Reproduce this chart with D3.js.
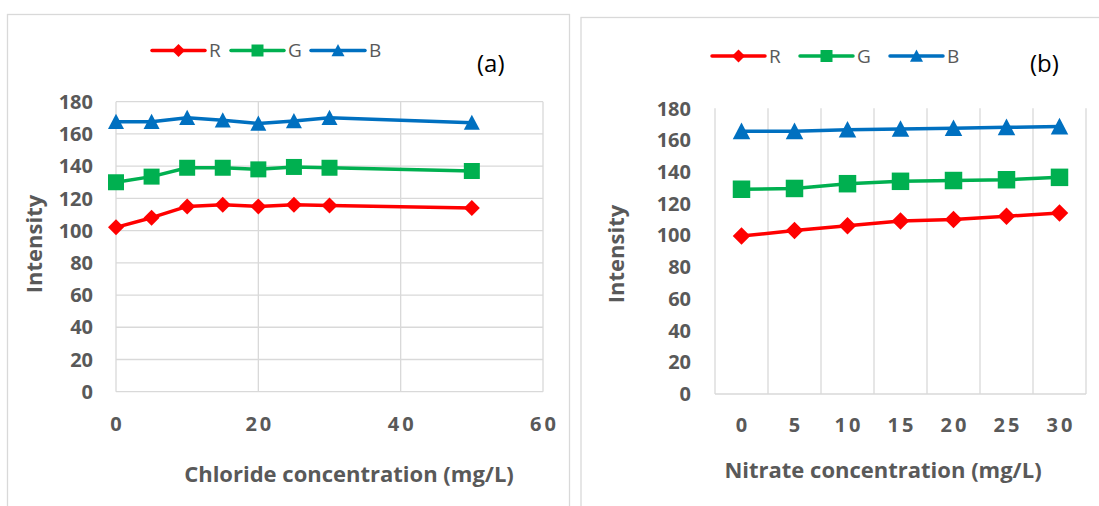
<!DOCTYPE html>
<html>
<head>
<meta charset="utf-8">
<script src="https://cdn.jsdelivr.net/npm/d3@7"></script>
<style>
  html, body { margin: 0; padding: 0; background: #ffffff; }
  svg { display: block; }
  text { font-family: "Open Sans", "Liberation Sans", sans-serif; }
</style>
</head>
<body>
<svg id="chart" width="1099" height="506"></svg>
<script>
// ---------- data ----------
const seriesNames = ["R", "G", "B"];
const seriesColors = ["#FF0000", "#00B050", "#0070C0"];
const seriesMarkers = ["diamond", "square", "triangle"];

const yTicks = [0, 20, 40, 60, 80, 100, 120, 140, 160, 180];

// Panel (a): chloride
const chlorideConc = [0, 5, 10, 15, 20, 25, 30, 50];
const chlorideTicks = [0, 20, 40, 60];
const chlorideR = [102, 108, 115, 116, 115, 116, 115.5, 114];
const chlorideG = [130, 133.5, 139, 139, 138, 139.5, 139, 137];
const chlorideB = [167.5, 167.5, 170, 168.5, 166.5, 168, 170, 167];

// Panel (b): nitrate
const nitrateConc = ["0", "5", "10", "15", "20", "25", "30"];
const nitrateR = [99.5, 103, 106, 109, 110, 112, 114];
const nitrateG = [129, 129.5, 132.5, 134, 134.5, 135, 136.5];
const nitrateB = [165.5, 165.5, 166.5, 167, 167.5, 168, 168.5];

// ---------- drawing ----------
const svg = d3.select("#chart");
const GRID = "#d9d9d9";
const TXT = "#595959";
const TICK_FS = 20;
const TITLE_FS = 22;
const LEG_FS = 19;

function markerPath(type, s) {
  const h = s / 2;
  if (type === "diamond") return `M0,${-h}L${h},0L0,${h}L${-h},0Z`;
  if (type === "square") return `M${-h},${-h}H${h}V${h}H${-h}Z`;
  return `M0,${-h}L${h},${h * 0.9}L${-h},${h * 0.9}Z`;
}

function legend(g, items) {
  items.forEach(it => {
    g.append("line").attr("x1", it.x1).attr("x2", it.x2).attr("y1", it.y).attr("y2", it.y)
      .attr("stroke", it.color).attr("stroke-width", 3.5).attr("stroke-linecap", "round");
    g.append("path").attr("d", markerPath(it.marker, it.ms))
      .attr("transform", `translate(${(it.x1 + it.x2) / 2},${it.y})`).attr("fill", it.color);
    g.append("text").attr("x", it.x2 + 4).attr("y", it.y).attr("dy", "0.36em")
      .attr("fill", TXT).attr("font-size", LEG_FS).text(it.name);
  });
}

// Panel borders
svg.append("rect").attr("x", 7.5).attr("y", 14.5).attr("width", 562).attr("height", 540)
  .attr("fill", "none").attr("stroke", GRID).attr("stroke-width", 1.3);
svg.append("rect").attr("x", 581).attr("y", 17.5).attr("width", 540).attr("height", 540)
  .attr("fill", "none").attr("stroke", GRID).attr("stroke-width", 1.3);

// ===== Panel (a) =====
(function () {
  const g = svg.append("g");
  const x = d3.scaleLinear().domain([0, 60]).range([116, 543]);
  const y = d3.scaleLinear().domain([0, 180]).range([391.7, 101.7]);

  g.selectAll(".hg").data(yTicks).join("line")
    .attr("x1", x(0)).attr("x2", x(60)).attr("y1", d => y(d)).attr("y2", d => y(d))
    .attr("stroke", GRID).attr("stroke-width", 1.3);
  g.selectAll(".vg").data(chlorideTicks).join("line")
    .attr("x1", d => x(d)).attr("x2", d => x(d)).attr("y1", y(180)).attr("y2", y(0))
    .attr("stroke", GRID).attr("stroke-width", 1.3);

  g.selectAll(".yl").data(yTicks).join("text")
    .attr("x", 93).attr("y", d => y(d)).attr("dy", "0.36em").attr("text-anchor", "end")
    .attr("font-size", TICK_FS).attr("font-weight", "bold").attr("fill", TXT).text(d => d);
  g.selectAll(".xl").data(chlorideTicks).join("text")
    .attr("x", d => x(d) + 1.5).attr("y", 423.5).attr("dy", "0.36em").attr("text-anchor", "middle")
    .attr("font-size", TICK_FS).attr("font-weight", "bold").attr("letter-spacing", 3)
    .attr("fill", TXT).text(d => d);

  g.append("text").attr("x", 349).attr("y", 474).attr("dy", "0.36em").attr("text-anchor", "middle")
    .attr("font-size", TITLE_FS).attr("font-weight", "bold").attr("fill", TXT)
    .text("Chloride concentration (mg/L)");
  g.append("text").attr("transform", "translate(34,244) rotate(-90)").attr("dy", "0.36em")
    .attr("text-anchor", "middle").attr("font-size", TITLE_FS).attr("font-weight", "bold")
    .attr("fill", TXT).text("Intensity");

  const seriesData = [chlorideR, chlorideG, chlorideB];
  const line = d3.line().x(d => x(d[0])).y(d => y(d[1]));
  seriesData.forEach((vals, i) => {
    const pts = chlorideConc.map((c, j) => [c, vals[j]]);
    g.append("path").datum(pts).attr("d", line).attr("fill", "none")
      .attr("stroke", seriesColors[i]).attr("stroke-width", 3.5).attr("stroke-linejoin", "round");
    g.selectAll(null).data(pts).join("path")
      .attr("d", markerPath(seriesMarkers[i], 16))
      .attr("transform", d => `translate(${x(d[0])},${y(d[1])})`)
      .attr("fill", seriesColors[i]);
  });

  legend(g, [
    { name: "R", color: seriesColors[0], marker: "diamond", x1: 152, x2: 205, y: 50.5, ms: 13 },
    { name: "G", color: seriesColors[1], marker: "square", x1: 231, x2: 284, y: 50.5, ms: 12 },
    { name: "B", color: seriesColors[2], marker: "triangle", x1: 311, x2: 365, y: 50.5, ms: 13 }
  ]);

  g.append("text").attr("x", 477).attr("y", 63).attr("dy", "0.36em")
    .attr("font-size", 24).attr("fill", "#000").text("(a)");
})();

// ===== Panel (b) =====
(function () {
  const g = svg.append("g");
  const x = d3.scaleBand().domain(nitrateConc).range([715, 1086]);
  const y = d3.scaleLinear().domain([0, 180]).range([394, 108.3]);

  const edges = nitrateConc.map(c => x(c)).concat([x.range()[1]]);
  g.selectAll(".vg").data(edges).join("line")
    .attr("x1", d => d).attr("x2", d => d).attr("y1", y(180)).attr("y2", y(0))
    .attr("stroke", GRID).attr("stroke-width", 1.3);
  g.append("line").attr("x1", x.range()[0]).attr("x2", x.range()[1])
    .attr("y1", y(0)).attr("y2", y(0)).attr("stroke", GRID).attr("stroke-width", 1.3);

  g.selectAll(".yl").data(yTicks).join("text")
    .attr("x", 691).attr("y", d => y(d)).attr("dy", "0.36em").attr("text-anchor", "end")
    .attr("font-size", TICK_FS).attr("font-weight", "bold").attr("fill", TXT).text(d => d);
  g.selectAll(".xl").data(nitrateConc).join("text")
    .attr("x", d => x(d) + x.bandwidth() / 2 + 1.5).attr("y", 425).attr("dy", "0.36em")
    .attr("text-anchor", "middle").attr("font-size", TICK_FS).attr("font-weight", "bold")
    .attr("letter-spacing", 3).attr("fill", TXT).text(d => d);

  g.append("text").attr("x", 883).attr("y", 470).attr("dy", "0.36em").attr("text-anchor", "middle")
    .attr("font-size", TITLE_FS).attr("font-weight", "bold").attr("fill", TXT)
    .text("Nitrate concentration (mg/L)");
  g.append("text").attr("transform", "translate(616,254) rotate(-90)").attr("dy", "0.36em")
    .attr("text-anchor", "middle").attr("font-size", TITLE_FS).attr("font-weight", "bold")
    .attr("fill", TXT).text("Intensity");

  const seriesData = [nitrateR, nitrateG, nitrateB];
  const cx = c => x(c) + x.bandwidth() / 2;
  const line = d3.line().x(d => cx(d[0])).y(d => y(d[1]));
  seriesData.forEach((vals, i) => {
    const pts = nitrateConc.map((c, j) => [c, vals[j]]);
    g.append("path").datum(pts).attr("d", line).attr("fill", "none")
      .attr("stroke", seriesColors[i]).attr("stroke-width", 3.5).attr("stroke-linejoin", "round");
    g.selectAll(null).data(pts).join("path")
      .attr("d", markerPath(seriesMarkers[i], 17.5))
      .attr("transform", d => `translate(${cx(d[0])},${y(d[1])})`)
      .attr("fill", seriesColors[i]);
  });

  legend(g, [
    { name: "R", color: seriesColors[0], marker: "diamond", x1: 712, x2: 765, y: 56, ms: 13 },
    { name: "G", color: seriesColors[1], marker: "square", x1: 800, x2: 853, y: 56, ms: 12 },
    { name: "B", color: seriesColors[2], marker: "triangle", x1: 890, x2: 943, y: 56, ms: 13 }
  ]);

  g.append("text").attr("x", 1030).attr("y", 63).attr("dy", "0.36em")
    .attr("font-size", 24).attr("fill", "#000").text("(b)");
})();
</script>
</body>
</html>
